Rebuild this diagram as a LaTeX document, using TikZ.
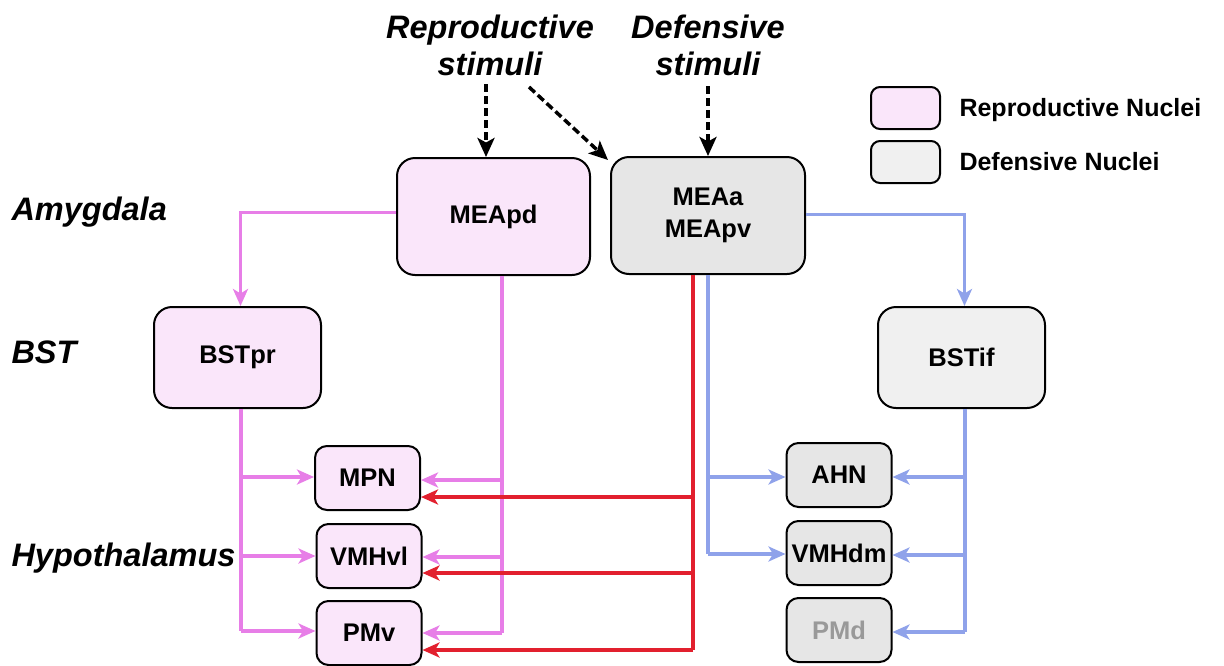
\documentclass[tikz,border=0pt]{standalone}
\usepackage{fontspec}
\setmainfont{Liberation Sans}
\usetikzlibrary{arrows.meta}
\definecolor{rfill}{HTML}{FAE6FA}
\definecolor{dfill}{HTML}{E6E6E6}
\definecolor{lfill}{HTML}{F0F0F0}
\definecolor{pinkln}{HTML}{E77EE7}
\definecolor{blueln}{HTML}{8FA2EA}
\definecolor{redln}{HTML}{E2202E}
\definecolor{greytxt}{HTML}{999999}
\tikzset{
  box/.style={draw=black, line width=2pt, align=center, inner sep=0pt,
    font=\bfseries\fontsize{25.5}{32}\selectfont},
  bigbox/.style={box, rounded corners=18pt},
  smallbox/.style={box, rounded corners=12pt, minimum width=105pt, minimum height=64pt},
  repro/.style={fill=rfill},
  defen/.style={fill=dfill},
  lab/.style={font=\bfseries\itshape\fontsize{32.5}{37}\selectfont, align=center},
  leglab/.style={font=\bfseries\fontsize{25}{30}\selectfont, anchor=west},
  tip/.style={-{Stealth[length=17pt,width=15pt,inset=4.5pt]}},
  pinkc/.style={draw=pinkln, line width=3.5pt},
  bluec/.style={draw=blueln, line width=3.5pt},
  redc/.style={draw=redln, line width=3.5pt},
  stim/.style={draw=black, line width=3.5pt, dash pattern=on 8pt off 4pt,
    -{Stealth[length=19pt,width=17pt,inset=4.5pt]}},
}
\begin{document}
\begin{tikzpicture}[x=1pt,y=-1pt]
\useasboundingbox (0,0) rectangle (1224,665);

% side labels
\node[lab, anchor=west] (amy) at (8,212) {Amygdala};
\node[lab, anchor=west] (bst) at (8,352) {BST};
\node[lab, anchor=west] (hyp) at (8,558) {Hypothalamus};

% stimuli
\node[lab] (rs) at (490,45) {Reproductive\\stimuli};
\node[lab] (ds) at (708,45) {Defensive\\stimuli};

% legend
\node[box, fill=rfill, rounded corners=9pt, minimum width=69pt, minimum height=42pt] (legr) at (905.5,108) {};
\node[box, fill=lfill, rounded corners=9pt, minimum width=69pt, minimum height=42pt] (legd) at (905.5,162) {};
\node[leglab] (legrt) at (956,110) {Reproductive Nuclei};
\node[leglab] (legdt) at (956,162) {Defensive Nuclei};

% big nodes
\node[bigbox, repro, minimum width=193pt, minimum height=117pt] (MEApd) at (493.5,216.5) {MEApd};
\node[bigbox, defen, minimum width=194pt, minimum height=117pt] (MEAa) at (708,215.5) {MEAa\\MEApv};
\node[bigbox, repro, minimum width=167pt, minimum height=101pt] (BSTpr) at (237.5,357.5) {BSTpr};
\node[bigbox, fill=lfill, minimum width=167pt, minimum height=101pt] (BSTif) at (961.5,357.5) {BSTif};

% small nodes
\node[smallbox, repro] (MPN) at (367.5,478) {MPN};
\node[smallbox, repro] (VMHvl) at (369,556) {VMHvl};
\node[smallbox, repro] (PMv) at (369,633) {PMv};
\node[smallbox, defen] (AHN) at (839,475) {AHN};
\node[smallbox, defen] (VMHdm) at (839,553) {VMHdm};
\node[smallbox, defen, text=greytxt] (PMd) at (839,630) {PMd};

% stimulus arrows
\coordinate (rs1) at (486,84);
\coordinate (rs2) at (529,87);
\coordinate (ds1) at (708,86);
\draw[stim] (rs1) -- (rs1 |- MEApd.north);
\draw[stim] (rs2) -- ([xshift=-2pt,yshift=-4pt]MEAa.north west);
\draw[stim] (ds1) -- (MEAa.north);

% MEApd -> BSTpr
\draw[pinkc, tip] ([yshift=4pt]MEApd.west) -| ([xshift=3pt]BSTpr.north);
% MEAa -> BSTif
\draw[bluec, tip] ([yshift=1pt]MEAa.east) -| ([xshift=3pt]BSTif.north);

% MEApd trunk to hypothalamus
\coordinate (pa) at (502,480);
\coordinate (pb) at (502,557);
\coordinate (pc) at (502,633);
\draw[pinkc] (pc |- MEApd.south) -- (pc);
\draw[pinkc, tip] (pa) -- (pa -| MPN.east);
\draw[pinkc, tip] (pb) -- (pb -| VMHvl.east);
\draw[pinkc, tip] (pc) -- (pc -| PMv.east);

% BSTpr trunk
\coordinate (qa) at (241,477);
\coordinate (qb) at (241,556);
\coordinate (qc) at (241,631);
\draw[pinkc] (qc |- BSTpr.south) -- (qc);
\draw[pinkc, tip] (qa) -- (qa -| MPN.west);
\draw[pinkc, tip] (qb) -- (qb -| VMHvl.west);
\draw[pinkc, tip] (qc) -- (qc -| PMv.west);

% MEAa red trunk
\coordinate (ra) at (693,497);
\coordinate (rb) at (693,573);
\coordinate (rc) at (693,650);
\draw[redc] (rc |- MEAa.south) -- (rc);
\draw[redc, tip] (ra) -- (ra -| MPN.east);
\draw[redc, tip] (rb) -- (rb -| VMHvl.east);
\draw[redc, tip] (rc) -- (rc -| PMv.east);

% MEAa blue trunk
\coordinate (ba) at (708,477);
\coordinate (bb) at (708,554);
\draw[bluec] (bb |- MEAa.south) -- (bb);
\draw[bluec, tip] (ba) -- (ba -| AHN.west);
\draw[bluec, tip] (bb) -- (bb -| VMHdm.west);

% BSTif trunk
\coordinate (ca) at (965,477);
\coordinate (cb) at (965,555);
\coordinate (cc) at (965,632);
\draw[bluec] (cc |- BSTif.south) -- (cc);
\draw[bluec, tip] (ca) -- (ca -| AHN.east);
\draw[bluec, tip] (cb) -- (cb -| VMHdm.east);
\draw[bluec, tip] (cc) -- (cc -| PMd.east);
\end{tikzpicture}
\end{document}
